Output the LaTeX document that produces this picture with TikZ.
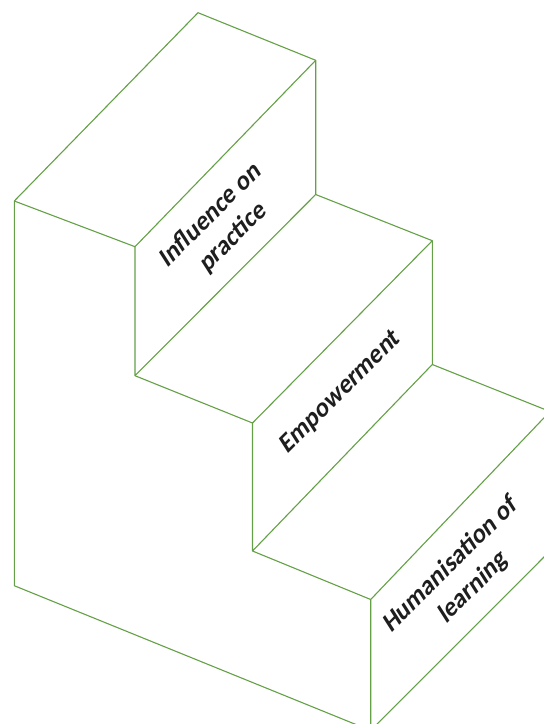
\documentclass[tikz,border=0pt]{standalone}
\usepackage{fontspec}
\setmainfont{Carlito}
\newfontfamily\lblfont{Carlito}[BoldFeatures={FakeSlant=0.22},UprightFeatures={FakeSlant=0.22}]
\definecolor{stepgreen}{RGB}{100,160,70}
\definecolor{txt}{RGB}{30,30,30}
\begin{document}
\begin{tikzpicture}[x=1pt,y=-1pt,
  edge/.style={draw=stepgreen,line width=1.1pt,line join=round},
  lbl/.style={font=\lblfont\bfseries\fontsize{26}{32}\selectfont,text=txt,align=center,rotate=45}]
\useasboundingbox (0,0) rectangle (544,724);
\begin{scope}
\clip (0,0) rectangle (544,724);
% vertices
\coordinate (A) at (198,12.7);
\coordinate (B) at (315.7,60.3);
\coordinate (C) at (14.3,201);
\coordinate (D) at (135,246.7);
\coordinate (E) at (135,375.7);
\coordinate (F) at (315.7,194.5);
\coordinate (G) at (432.3,240.7);
\coordinate (H) at (252.5,423);
\coordinate (I) at (252.5,551);
\coordinate (J) at (432.3,364.5);
\coordinate (K) at (370.7,599.5);
\coordinate (L) at (14.3,585.7);
\coordinate (M) at (550,411.5);
\coordinate (P) at (370.7,730.5);
\coordinate (Q) at (553,548);
% top block
\draw[edge] (C) -- (A) -- (B) -- (F);
\draw[edge] (C) -- (D) -- (B);
% riser 1 and tread 2
\draw[edge] (D) -- (E) -- (F) -- (G) -- (J);
\draw[edge] (E) -- (H) -- (G);
% riser 2 and tread 3
\draw[edge] (H) -- (I) -- (J) -- (M);
\draw[edge] (I) -- (K) -- (M);
% riser 3 and base
\draw[edge] (K) -- (P) -- (Q);
\draw[edge] (C) -- (L) -- (P);
\end{scope}
\node[lbl] (t1) at (221,227) {Influence on\\practice};
\node[lbl] (t2) at (340,393) {Empowerment};
\node[lbl] (t3) at (461,577) {Humanisation of\\learning};
\end{tikzpicture}
\end{document}
